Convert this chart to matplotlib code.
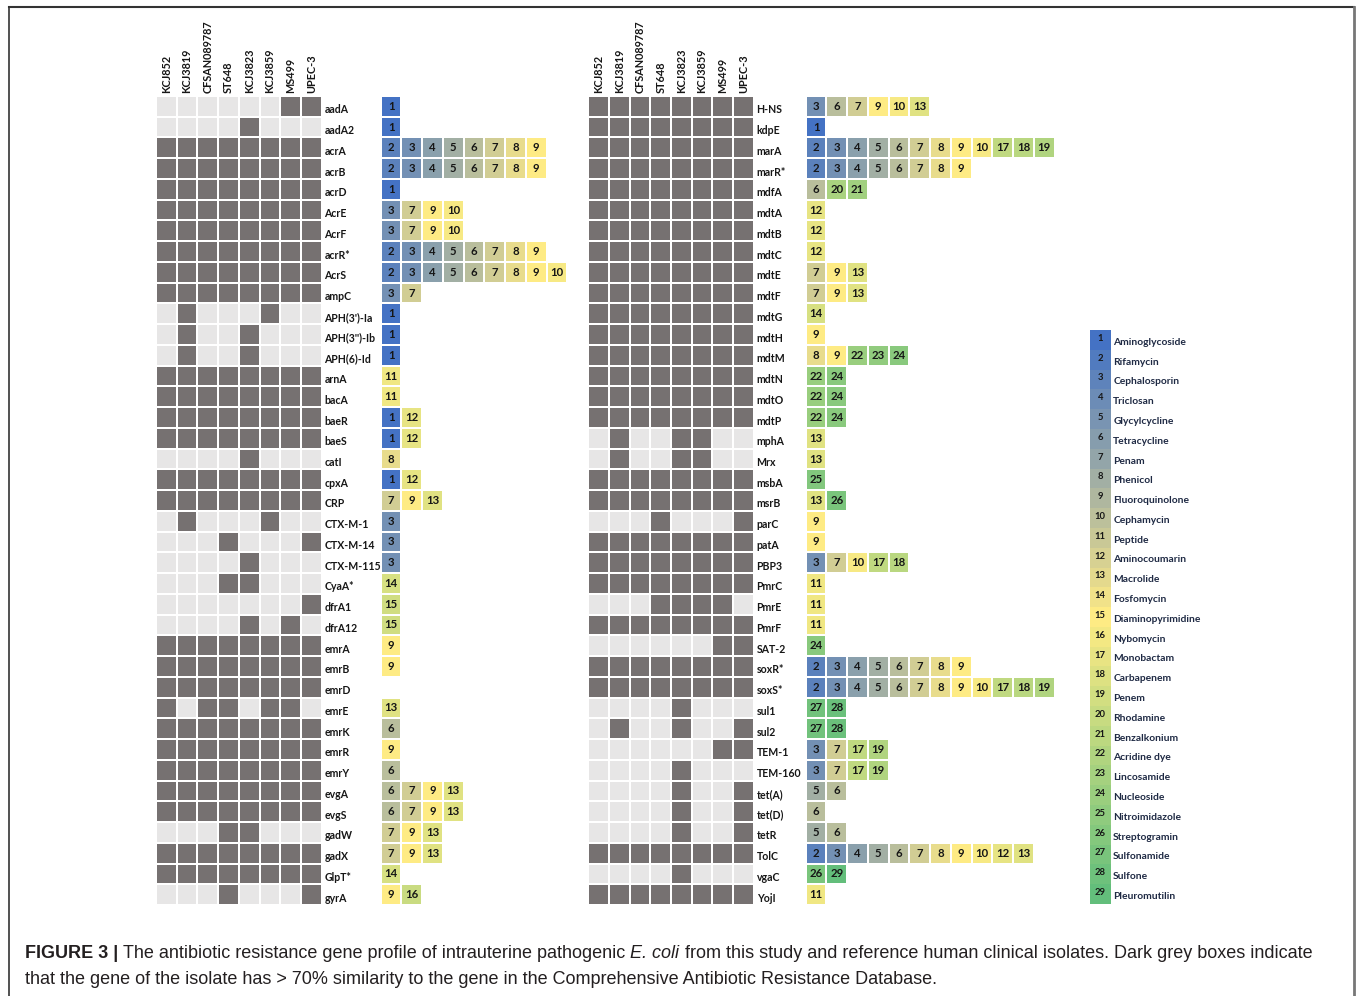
import numpy as np
import matplotlib
matplotlib.use('Agg')
import matplotlib.pyplot as plt
from matplotlib.colors import ListedColormap, LinearSegmentedColormap, TwoSlopeNorm
from matplotlib.lines import Line2D

# ---------- data ----------
izolaty = ['KCJ852', 'KCJ3819', 'CFSAN089787', 'ST648', 'KCJ3823', 'KCJ3859', 'MS499', 'UPEC-3']

geny_l = ['aadA', 'aadA2', 'acrA', 'acrB', 'acrD', 'AcrE', 'AcrF', 'acrR*', 'AcrS', 'ampC',
          "APH(3')-Ia", "APH(3'')-Ib", 'APH(6)-Id', 'arnA', 'bacA', 'baeR', 'baeS', 'catI',
          'cpxA', 'CRP', 'CTX-M-1', 'CTX-M-14', 'CTX-M-115', 'CyaA*', 'dfrA1', 'dfrA12',
          'emrA', 'emrB', 'emrD', 'emrE', 'emrK', 'emrR', 'emrY', 'evgA', 'evgS', 'gadW',
          'gadX', 'GlpT*', 'gyrA']
# 1 = gen ma > 70 % shodu (tmave sede pole)
pritomnost_l = ['00000011', '00001000', '11111111', '11111111', '11111111', '11111111',
                '11111111', '11111111', '11111111', '11111111', '01000100', '01001000',
                '01001000', '11111111', '11111111', '11111111', '11111111', '00001000',
                '11111111', '11111111', '01000100', '00010001', '00001000', '00011000',
                '00000001', '00001010', '11111111', '11111111', '11111111', '10110110',
                '11111111', '11111111', '11111111', '11111111', '11111111', '00011000',
                '11111111', '11111111', '00010001']
tridy_l = [[1], [1], [2, 3, 4, 5, 6, 7, 8, 9], [2, 3, 4, 5, 6, 7, 8, 9], [1], [3, 7, 9, 10],
           [3, 7, 9, 10], [2, 3, 4, 5, 6, 7, 8, 9], [2, 3, 4, 5, 6, 7, 8, 9, 10], [3, 7],
           [1], [1], [1], [11], [11], [1, 12], [1, 12], [8], [1, 12], [7, 9, 13], [3], [3], [3],
           [14], [15], [15], [9], [9], [], [13], [6], [9], [6], [6, 7, 9, 13], [6, 7, 9, 13],
           [7, 9, 13], [7, 9, 13], [14], [9, 16]]

geny_p = ['H-NS', 'kdpE', 'marA', 'marR*', 'mdfA', 'mdtA', 'mdtB', 'mdtC', 'mdtE', 'mdtF',
          'mdtG', 'mdtH', 'mdtM', 'mdtN', 'mdtO', 'mdtP', 'mphA', 'Mrx', 'msbA', 'msrB',
          'parC', 'patA', 'PBP3', 'PmrC', 'PmrE', 'PmrF', 'SAT-2', 'soxR*', 'soxS*', 'sul1',
          'sul2', 'TEM-1', 'TEM-160', 'tet(A)', 'tet(D)', 'tetR', 'TolC', 'vgaC', 'YojI']
pritomnost_p = ['11111111', '11111111', '11111111', '11111111', '11111111', '11111111',
                '11111111', '11111111', '11111111', '11111111', '11111111', '11111111',
                '11111111', '11111111', '11111111', '11111111', '01001100', '01001100',
                '11111111', '11111111', '00010001', '11111111', '11111111', '11111111',
                '00011110', '11111111', '00000011', '11111111', '11111111', '00001000',
                '01001001', '00000011', '00001000', '00001001', '00001001', '00001001',
                '11111111', '00001000', '11111111']
tridy_p = [[3, 6, 7, 9, 10, 13], [1], [2, 3, 4, 5, 6, 7, 8, 9, 10, 17, 18, 19],
           [2, 3, 4, 5, 6, 7, 8, 9], [6, 20, 21], [12], [12], [12], [7, 9, 13], [7, 9, 13],
           [14], [9], [8, 9, 22, 23, 24], [22, 24], [22, 24], [22, 24], [13], [13], [25],
           [13, 26], [9], [9], [3, 7, 10, 17, 18], [11], [11], [11], [24],
           [2, 3, 4, 5, 6, 7, 8, 9], [2, 3, 4, 5, 6, 7, 8, 9, 10, 17, 18, 19], [27, 28],
           [27, 28], [3, 7, 17, 19], [3, 7, 17, 19], [5, 6], [6], [5, 6],
           [2, 3, 4, 5, 6, 7, 8, 9, 10, 12, 13], [26, 29], [11]]

tridy_nazvy = ['Aminoglycoside', 'Rifamycin', 'Cephalosporin', 'Triclosan', 'Glycylcycline',
               'Tetracycline', 'Penam', 'Phenicol', 'Fluoroquinolone', 'Cephamycin', 'Peptide',
               'Aminocoumarin', 'Macrolide', 'Fosfomycin', 'Diaminopyrimidine', 'Nybomycin',
               'Monobactam', 'Carbapenem', 'Penem', 'Rhodamine', 'Benzalkonium', 'Acridine dye',
               'Lincosamide', 'Nucleoside', 'Nitroimidazole', 'Streptogramin', 'Sulfonamide',
               'Sulfone', 'Pleuromutilin']

# ---------- styl ----------
W, H = 1360, 996
FONT = 'Lato'
cmap_tridy = LinearSegmentedColormap.from_list('tridy', ['#4472C4', '#FFEB84', '#63BE7B'])
cmap_sede = ListedColormap(['#E7E6E6', '#767171'])
text_barva = '#161616'

fig = plt.figure(figsize=(W / 100, H / 100), dpi=100)


def osa(x0, y0, x1, y1):
    # osa zadana v pixelech (y shora)
    return fig.add_axes([x0 / W, 1 - y1 / H, (x1 - x0) / W, (y1 - y0) / H])


def kresli_mrizku(ax, geny, radky):
    data = np.array([[int(c) for c in r] for r in radky])
    ax.pcolormesh(data, cmap=cmap_sede, vmin=0, vmax=1, edgecolors='white', linewidth=1.2)
    ax.set_xlim(0, data.shape[1])
    ax.set_ylim(len(geny), 0)
    ax.set_xticks(np.arange(data.shape[1]) + 0.5)
    ax.set_xticklabels(izolaty, rotation=90, fontsize=7.8, fontweight='bold',
                       family=FONT, color=text_barva)
    ax.xaxis.tick_top()
    ax.set_yticks(np.arange(len(geny)) + 0.62)
    ax.set_yticklabels(geny, fontsize=7.6, fontweight='bold', family=FONT, color=text_barva)
    ax.yaxis.tick_right()
    ax.tick_params(length=0, pad=2)
    for s in ax.spines.values():
        s.set_visible(False)


def kresli_tridy(ax, tridy, ncol):
    M = np.full((len(tridy), ncol), np.nan)
    for i, t in enumerate(tridy):
        M[i, :len(t)] = t
    norm = TwoSlopeNorm(vmin=1, vcenter=9, vmax=29)
    ax.pcolormesh(np.ma.masked_invalid(M), cmap=cmap_tridy, norm=norm,
                  edgecolors='white', linewidth=1.2)
    for i, t in enumerate(tridy):
        for j, v in enumerate(t):
            ax.text(j + 0.5, i + 0.5, str(v), ha='center', va='center', fontsize=8.2,
                    fontweight='bold', family=FONT, color=text_barva)
    ax.set_xlim(0, ncol)
    ax.set_ylim(len(tridy), 0)
    ax.axis('off')


# leva cast
kresli_mrizku(osa(156, 96, 321.7, 905), geny_l, pritomnost_l)
kresli_tridy(osa(380.7, 96, 380.7 + 9 * 20.74, 905), tridy_l, 9)

# prava cast
kresli_mrizku(osa(588.3, 96, 753.8, 905), geny_p, pritomnost_p)
kresli_tridy(osa(805.7, 96, 805.7 + 12 * 20.74, 905), tridy_p, 12)

# legenda trid antibiotik
ax_leg = osa(1089.5, 330, 1111, 904)
n = len(tridy_nazvy)
ax_leg.pcolormesh(np.arange(1, n + 1).reshape(-1, 1), cmap=cmap_tridy,
                  norm=TwoSlopeNorm(vmin=1, vcenter=15, vmax=29))
for i, nazev in enumerate(tridy_nazvy):
    ax_leg.text(0.5, i + 0.42, str(i + 1), ha='center', va='center', fontsize=6.8,
                fontweight='bold', family=FONT, color=text_barva)
    ax_leg.text(1.1, i + 0.62, nazev, ha='left', va='center', fontsize=7.4,
                fontweight='bold', family=FONT, color='#1f2a44', clip_on=False)
ax_leg.set_xlim(0, 1)
ax_leg.set_ylim(n, 0)
ax_leg.axis('off')

# ramecek
fig.add_artist(Line2D([8.5 / W, 8.5 / W], [0, 1 - 7 / H], color='#333333', lw=1.2))
fig.add_artist(Line2D([8.5 / W, 1354 / W], [1 - 7 / H, 1 - 7 / H], color='#333333', lw=1.5))
fig.add_artist(Line2D([1354 / W, 1354 / W], [0, 1 - 7 / H], color='#777777', lw=2))

# popisek obrazku
cap_font = ['Liberation Sans Narrow', 'Liberation Sans']
radek1 = [('FIGURE 3 | ', 'normal', 'bold'),
          ('The antibiotic resistance gene profile of intrauterine pathogenic ', 'normal', 'normal'),
          ('E. coli', 'italic', 'normal'),
          (' from this study and reference human clinical isolates. Dark grey boxes indicate',
           'normal', 'normal')]
radek2 = [('that the gene of the isolate has > 70% similarity to the gene in the '
           'Comprehensive Antibiotic Resistance Database.', 'normal', 'normal')]

renderer = fig.canvas.get_renderer()
for kusy, y in [(radek1, 958), (radek2, 984)]:
    x = 25
    for text, styl, vaha in kusy:
        t = fig.text(x / W, 1 - y / H, text, fontsize=13.0, family=cap_font, style=styl,
                     fontweight=vaha, color='#231f20', va='baseline', ha='left')
        x = t.get_window_extent(renderer).x1

fig.savefig('out.png', dpi=100)
